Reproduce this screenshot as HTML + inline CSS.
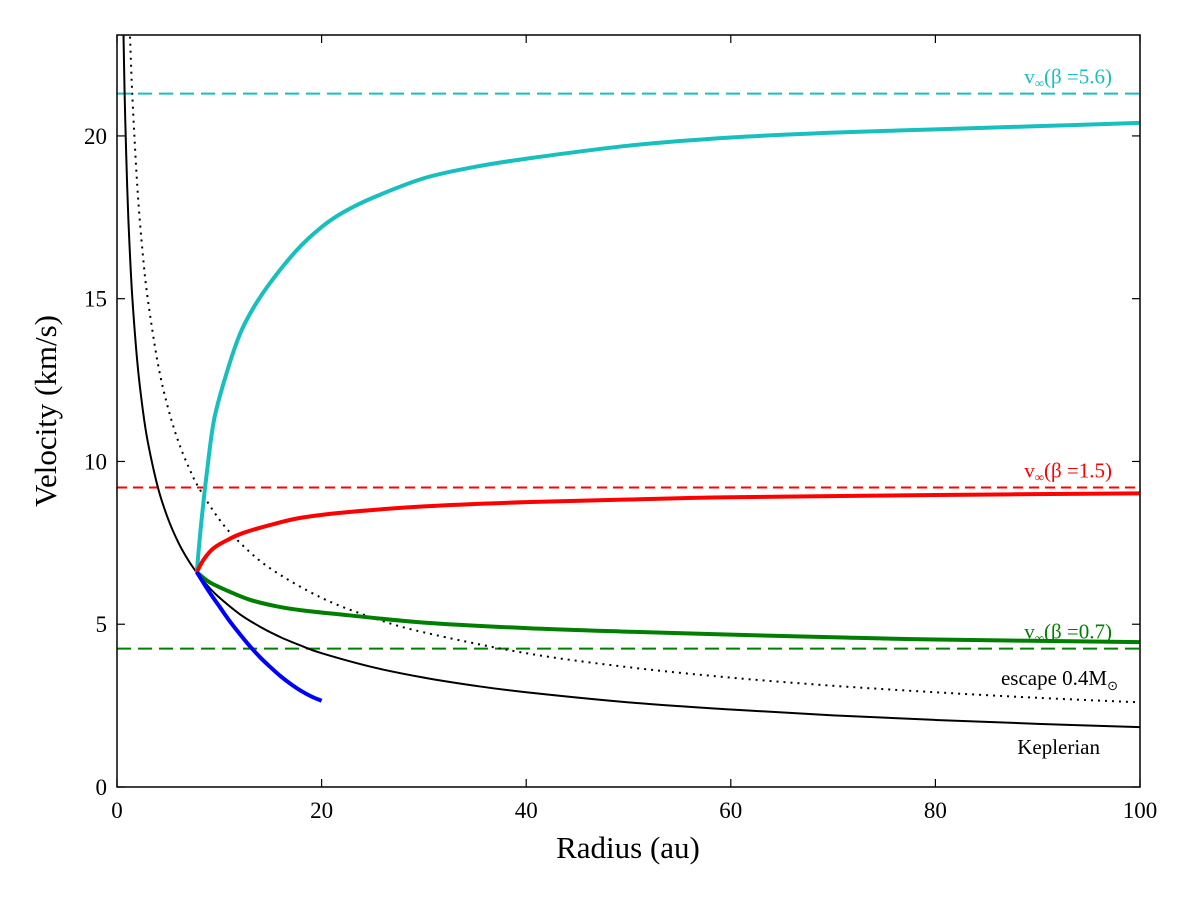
<!DOCTYPE html>
<html><head><meta charset="utf-8"><style>
html,body{margin:0;padding:0;background:#fff;}
svg{display:block;font-family:"Liberation Serif",serif;}
</style></head><body>
<svg id="chart" width="1200" height="901" viewBox="0 0 1200 901" xmlns="http://www.w3.org/2000/svg">
<g id="marks"></g>
<g id="axes"></g>
</svg>
<script>
const xTicks=[0,20,40,60,80,100];
const yTicks=[0,5,10,15,20];
const kepR=[0.6,0.7,0.8,1,1.2,1.5,2,2.5,3,4,5,6,7,8,9,10,12,14,16,18,20,25,30,35,40,50,60,70,80,90,100];
const kepV=[23.75,22.0,20.57,18.4,16.8,15.02,13.01,11.64,10.62,9.2,8.23,7.51,6.95,6.5,6.13,5.82,5.31,4.92,4.6,4.34,4.11,3.68,3.36,3.11,2.91,2.60,2.38,2.20,2.06,1.94,1.84];
const escR=[1.25,1.5,2,2.5,3,4,5,6,7,8,10,12,15,20,25,30,40,50,60,70,80,90,100];
const escV=[23.26,21.23,18.38,16.44,15.01,13,11.63,10.61,9.83,9.19,8.22,7.51,6.71,5.81,5.2,4.75,4.11,3.68,3.36,3.11,2.91,2.74,2.6];
const cyanR=[7.8,8.2,8.8,9.5,10.7,12,13.3,15,17.6,20,22.1,25,30,35,40,50,60,70,80,90,100];
const cyanV=[6.6,8.0,9.7,11.3,12.7,13.9,14.7,15.5,16.5,17.2,17.65,18.1,18.7,19.05,19.3,19.7,19.95,20.1,20.2,20.3,20.4];
const redR=[7.8,8.5,9.5,11,12.3,15,18,22.8,30,40,50,60,80,100];
const redV=[6.6,7.0,7.35,7.62,7.8,8.05,8.27,8.45,8.62,8.75,8.83,8.9,8.97,9.02];
const greenR=[7.8,9,11,13,15.6,18,22.8,30,40,50,60,70,80,100];
const greenV=[6.6,6.3,6.0,5.75,5.55,5.43,5.27,5.05,4.88,4.77,4.68,4.6,4.53,4.45];
const blueR=[7.8,9,10,11,12,13,14,15,16,17,18,19,20];
const blueV=[6.6,6.0,5.55,5.1,4.7,4.32,3.98,3.68,3.4,3.16,2.95,2.78,2.65];
const vinfVals=[21.3,9.2,4.25];
const vinfLabels=["5.6","1.5","0.7"];
const vinfColors=["#17bfbf","#ff0000","#007f00"];

const X0=117,X1=1140,Y0=787,Y1=35,XMAX=100,YMAX=23.1;
const sx=v=>X0+(X1-X0)*v/XMAX;
const sy=v=>Y0-(Y0-Y1)*v/YMAX;
const NS="http://www.w3.org/2000/svg";
const marks=document.getElementById('marks');
const axes=document.getElementById('axes');
function mk(tag,attrs,parent){const e=document.createElementNS(NS,tag);for(const k in attrs)e.setAttribute(k,attrs[k]);parent.appendChild(e);return e;}

const defs=mk('defs',{},marks);
const cp=mk('clipPath',{id:'plotclip'},defs);
mk('rect',{x:X0,y:Y1,width:X1-X0,height:Y0-Y1},cp);
const plot=mk('g',{'clip-path':'url(#plotclip)'},marks);

function smoothPath(R,V){
  const P=R.map((r,i)=>[sx(r),sy(V[i])]);
  let d='M'+P[0][0].toFixed(2)+','+P[0][1].toFixed(2);
  for(let i=0;i<P.length-1;i++){
    const p0=P[i-1]||P[i],p1=P[i],p2=P[i+1],p3=P[i+2]||P[i+1];
    const c1=[p1[0]+(p2[0]-p0[0])/6,p1[1]+(p2[1]-p0[1])/6];
    const c2=[p2[0]-(p3[0]-p1[0])/6,p2[1]-(p3[1]-p1[1])/6];
    d+=' C'+c1.map(v=>v.toFixed(2)).join(',')+' '+c2.map(v=>v.toFixed(2)).join(',')+' '+p2.map(v=>v.toFixed(2)).join(',');
  }
  return d;
}
function line(R,V,color,w,dash,name){
  const p=mk('path',{d:smoothPath(R,V),fill:'none',stroke:color,'stroke-width':w,'stroke-linejoin':'round'},plot);
  if(dash)p.setAttribute('stroke-dasharray',dash);
  
  
}
vinfVals.forEach((v,i)=>{
  const l=mk('line',{x1:X0,x2:X1,y1:sy(v),y2:sy(v),stroke:vinfColors[i],'stroke-width':2,'stroke-dasharray':i==1?'10,6':'14,7'},plot);
  
  
});
line(escR,escV,'#000',2,'2,5','escape-curve');
line(kepR,kepV,'#000',2,null,'keplerian-curve');
line(cyanR,cyanV,'#17bfbf',4,null,'cyan-curve');
line(redR,redV,'#ff0000',4,null,'red-curve');
line(greenR,greenV,'#007f00',4,null,'green-curve');
line(blueR,blueV,'#0000ff',4,null,'blue-curve');

vinfVals.forEach((v,i)=>{
  const t=mk('text',{x:1112,y:sy(v)-10,'text-anchor':'end','font-size':21,fill:vinfColors[i]},marks);
  t.innerHTML='v<tspan font-size="13" dy="4">∞</tspan><tspan dy="-4">(β =</tspan>'+vinfLabels[i]+')';
  
  
});
let t=mk('text',{x:1118,y:685,'text-anchor':'end','font-size':21},marks);
t.innerHTML='escape 0.4M<tspan font-size="13" dy="5">⊙</tspan>';


t=mk('text',{x:1100,y:754,'text-anchor':'end','font-size':21},marks);
t.textContent='Keplerian';



const fr=mk('rect',{x:X0,y:Y1,width:X1-X0,height:Y0-Y1,fill:'none',stroke:'#000','stroke-width':1.5},axes);


xTicks.forEach(v=>{
  const x=sx(v);
  mk('line',{x1:x,x2:x,y1:Y0,y2:Y0-8,stroke:'#000','stroke-width':1.2},axes);
  mk('line',{x1:x,x2:x,y1:Y1,y2:Y1+8,stroke:'#000','stroke-width':1.2},axes);
  const l=mk('text',{x:x,y:Y0+31,'text-anchor':'middle','font-size':23},axes);
  l.textContent=v;
  
  
});
yTicks.forEach(v=>{
  const y=sy(v);
  mk('line',{x1:X0,x2:X0+8,y1:y,y2:y,stroke:'#000','stroke-width':1.2},axes);
  mk('line',{x1:X1,x2:X1-8,y1:y,y2:y,stroke:'#000','stroke-width':1.2},axes);
  const l=mk('text',{x:X0-10,y:y+8,'text-anchor':'end','font-size':23},axes);
  l.textContent=v;
  
  
});
t=mk('text',{x:628,y:858,'text-anchor':'middle','font-size':31},axes);
t.textContent='Radius (au)';


t=mk('text',{x:0,y:0,'text-anchor':'middle','font-size':31,transform:'translate(56,411) rotate(-90)'},axes);
t.textContent='Velocity (km/s)';


</script>
</body></html>
